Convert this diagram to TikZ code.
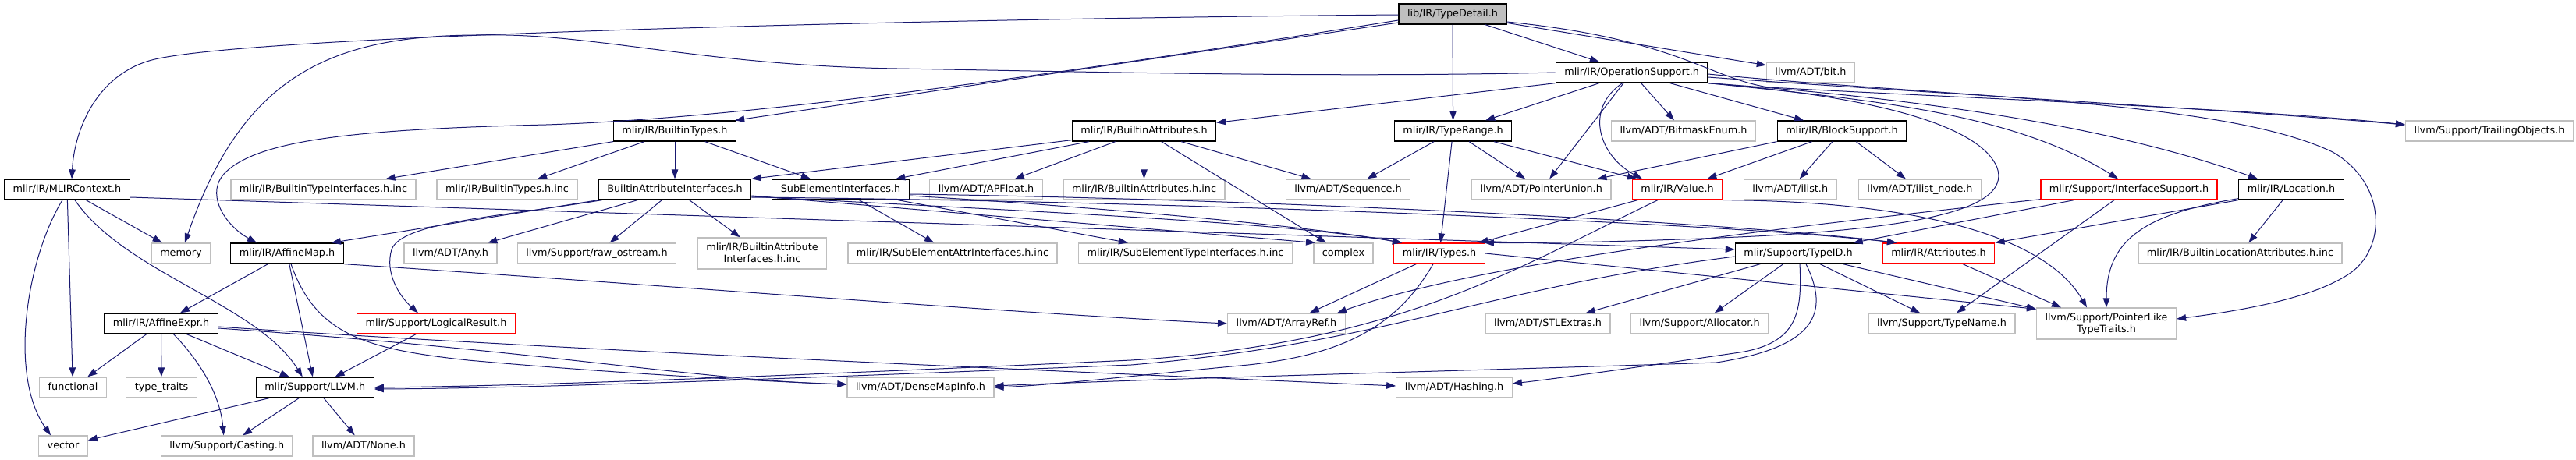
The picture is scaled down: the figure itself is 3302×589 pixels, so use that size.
\documentclass[tikz,border=0pt]{standalone}
\usepackage{fontspec}
\setmainfont{DejaVu Sans}
\usepackage{xcolor}
\usepackage{tikz}
\usetikzlibrary{arrows.meta}

\definecolor{edgeblue}{RGB}{25,25,112}
\definecolor{greyline}{RGB}{191,191,191}
\newcommand{\dgfont}{\fontsize{12.8pt}{15pt}\selectfont}

\begin{document}
\begin{tikzpicture}[
    x=1pt, y=-1pt,
    box/.style={draw=black, fill=white, line width=1.3pt, minimum height=26pt, inner xsep=11pt, inner ysep=0pt, text height=10.3pt, text depth=2.7pt, font=\dgfont, align=center},
    extbox/.style={box, draw=greyline},
    cutbox/.style={box, draw=red},
    rootbox/.style={box, fill=greyline},
    twoline/.style={minimum height=40pt, text height=25.3pt, text depth=2.7pt},
    arrow/.style={-{Triangle[length=12pt, width=8.5pt]}, draw=edgeblue, line width=1pt}
]
\useasboundingbox (0,0) rectangle (3302,589);
\node[rootbox] (td) at (1862,18) {lib/IR/TypeDetail.h};
\node[box] (opsup) at (2091.6,93) {mlir/IR/OperationSupport.h};
\node[extbox] (bit) at (2321,93) {llvm/ADT/bit.h};
\node[box] (btypes) at (865,168) {mlir/IR/BuiltinTypes.h};
\node[box] (battr) at (1466.5,168) {mlir/IR/BuiltinAttributes.h};
\node[box] (trange) at (1862.6,168) {mlir/IR/TypeRange.h};
\node[extbox] (bmask) at (2158,168) {llvm/ADT/BitmaskEnum.h};
\node[box] (bsup) at (2361,168) {mlir/IR/BlockSupport.h};
\node[extbox] (trail) at (3191,168) {llvm/Support/TrailingObjects.h};
\node[box] (mctx) at (86,243) {mlir/IR/MLIRContext.h};
\node[extbox] (btinc) at (414.5,243) {mlir/IR/BuiltinTypeInterfaces.h.inc};
\node[extbox] (btypesinc) at (650,243) {mlir/IR/BuiltinTypes.h.inc};
\node[box] (bai) at (865,243) {BuiltinAttributeInterfaces.h};
\node[box] (sei) at (1077.5,243) {SubElementInterfaces.h};
\node[extbox] (apfloat) at (1264,243) {llvm/ADT/APFloat.h};
\node[extbox] (battrinc) at (1466.5,243) {mlir/IR/BuiltinAttributes.h.inc};
\node[extbox] (seq) at (1728,243) {llvm/ADT/Sequence.h};
\node[extbox] (punion) at (1975.7,243) {llvm/ADT/PointerUnion.h};
\node[cutbox] (value) at (2150,243) {mlir/IR/Value.h};
\node[extbox] (ilist) at (2294.7,243) {llvm/ADT/ilist.h};
\node[extbox] (ilnode) at (2461,243) {llvm/ADT/ilist\_node.h};
\node[cutbox] (isup) at (2729,243) {mlir/Support/InterfaceSupport.h};
\node[box] (loc) at (2937,243) {mlir/IR/Location.h};
\node[extbox] (memory) at (232,325) {memory};
\node[box] (amap) at (368,325) {mlir/IR/AffineMap.h};
\node[extbox] (any) at (577.5,325) {llvm/ADT/Any.h};
\node[extbox] (rawos) at (765,325) {llvm/Support/raw\_ostream.h};
\node[extbox, twoline] (baiinc) at (977,325) {mlir/IR/BuiltinAttribute\\Interfaces.h.inc};
\node[extbox] (seattr) at (1221,325) {mlir/IR/SubElementAttrInterfaces.h.inc};
\node[extbox] (setype) at (1519.5,325) {mlir/IR/SubElementTypeInterfaces.h.inc};
\node[extbox] (complex) at (1722,325) {complex};
\node[cutbox] (types) at (1845,325) {mlir/IR/Types.h};
\node[box] (typeid) at (2305,325) {mlir/Support/TypeID.h};
\node[cutbox] (attrs) at (2485,325) {mlir/IR/Attributes.h};
\node[extbox] (blocinc) at (2871.5,325) {mlir/IR/BuiltinLocationAttributes.h.inc};
\node[box] (aexpr) at (206.5,415) {mlir/IR/AffineExpr.h};
\node[cutbox] (logres) at (559,415) {mlir/Support/LogicalResult.h};
\node[extbox] (aref) at (1649,415) {llvm/ADT/ArrayRef.h};
\node[extbox] (stl) at (1984,415) {llvm/ADT/STLExtras.h};
\node[extbox] (alloc) at (2178.6,415) {llvm/Support/Allocator.h};
\node[extbox] (tname) at (2489,415) {llvm/Support/TypeName.h};
\node[extbox, twoline] (ptt) at (2700,415) {llvm/Support/PointerLike\\TypeTraits.h};
\node[extbox] (func) at (93.5,497) {functional};
\node[extbox] (ttraits) at (207,497) {type\_traits};
\node[box] (llvm) at (403.7,497) {mlir/Support/LLVM.h};
\node[extbox] (dmi) at (1180,497) {llvm/ADT/DenseMapInfo.h};
\node[extbox] (hashing) at (1864,497) {llvm/ADT/Hashing.h};
\node[extbox] (vector) at (81,572) {vector};
\node[extbox] (casting) at (290.7,572) {llvm/Support/Casting.h};
\node[extbox] (none) at (466,572) {llvm/ADT/None.h};
\draw[arrow] ([yshift=-1pt]td.west) .. controls (1200,24) and (300,45) .. (191,78) .. controls (121,99) and (95,170) .. ([xshift=6pt]mctx.north);
\draw[arrow] ([yshift=-8pt]td.west) .. controls (1450,80) and (1000,150) .. (700,160) .. controls (450,166) and (330,180) .. (288,222) .. controls (262,250) and (290,290) .. ([xshift=-39pt]amap.north);
\draw[arrow] ([yshift=-11pt]td.west) -- ([xshift=-2pt]btypes.north east);
\draw[arrow] (td) -- (trange);
\draw[arrow] (td) -- (opsup);
\draw[arrow] (td) -- (bit);
\draw[arrow] ([yshift=-10pt]td.east) .. controls (2150,50) and (2190,100) .. (2267,112) .. controls (2500,125) and (2900,140) .. ([yshift=8pt]trail.west);
\draw[arrow] (opsup.west) .. controls (1700,100) and (1400,92) .. (1150,88) .. controls (900,84) and (760,42) .. (620,45) .. controls (420,44) and (310,100) .. ([xshift=5pt]memory.north);
\draw[arrow] (opsup.south west) -- ([yshift=-3pt]battr.north east);
\draw[arrow] (opsup) -- (trange);
\draw[arrow] (opsup) -- (punion);
\draw[arrow] ([xshift=-12pt]opsup.south) .. controls (2030,140) and (2050,200) .. ([xshift=-45pt]value.north);
\draw[arrow] (opsup) -- (bmask);
\draw[arrow] (opsup) -- (bsup);
\draw[arrow] (opsup.south east) .. controls (2400,128) and (2580,145) .. ([xshift=-14pt]isup.north);
\draw[arrow] (opsup.south east) .. controls (2450,125) and (2700,160) .. ([xshift=-43pt]loc.north);
\draw[arrow] ([yshift=-6pt]opsup.east) .. controls (2450,118) and (2850,140) .. ([yshift=8pt]trail.west);
\draw[arrow] (opsup.south east) .. controls (2420,125) and (2540,165) .. (2560,215) .. controls (2575,260) and (2500,290) .. (2250,303) .. controls (2100,310) and (1980,312) .. ([xshift=-1pt]types.north east);
\draw[arrow] ([yshift=-2pt]opsup.east) .. controls (2500,125) and (2850,128) .. (2990,195) .. controls (3060,235) and (3060,320) .. (3010,352) .. controls (2960,385) and (2860,400) .. ([yshift=6pt]ptt.east);
\draw[arrow] (btypes.south west) -- ([xshift=80pt]btinc.north);
\draw[arrow] (btypes) -- (btypesinc);
\draw[arrow] (btypes) -- (bai);
\draw[arrow] (btypes) -- (sei);
\draw[arrow] ([yshift=2pt]battr.south west) -- (bai.north east);
\draw[arrow] (battr) -- (sei);
\draw[arrow] (battr) -- (apfloat);
\draw[arrow] (battr) -- (battrinc);
\draw[arrow] (battr) -- (seq);
\draw[arrow] (battr) -- (complex);
\draw[arrow] (trange) -- (seq);
\draw[arrow] (trange) -- (punion);
\draw[arrow] (trange) -- (value);
\draw[arrow] (trange) -- (types);
\draw[arrow] (bsup.south west) -- ([xshift=-18pt]punion.north east);
\draw[arrow] (bsup) -- (value);
\draw[arrow] (bsup) -- (ilist);
\draw[arrow] (bsup) -- (ilnode);
\draw[arrow] (mctx) -- (memory);
\draw[arrow] (mctx) -- (func);
\draw[arrow] ([xshift=-6pt]mctx.south) .. controls (35,330) and (10,480) .. ([xshift=-16pt]vector.north);
\draw[arrow] ([xshift=10pt]mctx.south) .. controls (160,350) and (330,390) .. ([xshift=-16pt]llvm.north);
\draw[arrow] ([yshift=-10pt]mctx.east) -- ([yshift=5pt]typeid.west);
\draw[arrow] (bai.south west) -- ([xshift=-16pt]amap.north east);
\draw[arrow] ([xshift=5pt]bai.south west) .. controls (640,278) and (515,285) .. (502,320) .. controls (493,350) and (512,380) .. ([xshift=-23pt]logres.north);
\draw[arrow] (bai) -- (any);
\draw[arrow] (bai) -- (rawos);
\draw[arrow] (bai) -- (baiinc);
\draw[arrow] ([yshift=-8pt]bai.east) -- ([xshift=-36pt]complex.north);
\draw[arrow] ([yshift=-9pt]bai.east) .. controls (1300,270) and (1650,285) .. ([xshift=-48pt]types.north);
\draw[arrow] ([yshift=-10pt]bai.east) .. controls (1500,258) and (2200,285) .. ([xshift=-54pt]attrs.north);
\draw[arrow] (sei) -- (seattr);
\draw[arrow] (sei) -- (setype);
\draw[arrow] ([yshift=-8pt]sei.east) .. controls (1400,265) and (1680,290) .. ([xshift=-48pt]types.north);
\draw[arrow] ([yshift=-6pt]sei.east) .. controls (1600,255) and (2200,283) .. ([xshift=-54pt]attrs.north);
\draw[arrow] (value) -- (types);
\draw[arrow] ([xshift=-25pt]value.south) .. controls (1950,340) and (1800,440) .. (1450,462) .. controls (1100,478) and (700,495) .. (llvm.east);
\draw[arrow] (value.south east) .. controls (2450,258) and (2620,300) .. ([xshift=-25pt]ptt.north);
\draw[arrow] (isup) -- (typeid);
\draw[arrow] (isup) -- (tname);
\draw[arrow] ([yshift=1pt]isup.south west) .. controls (2300,290) and (1900,335) .. ([xshift=-11pt]aref.north east);
\draw[arrow] (loc) -- (blocinc);
\draw[arrow] (loc.south west) -- (attrs.north east);
\draw[arrow] ([yshift=2pt]loc.south west) .. controls (2745,275) and (2700,310) .. (ptt.north);
\draw[arrow] (attrs) -- ([xshift=-58pt]ptt.north);
\draw[arrow] (types) -- (aref);
\draw[arrow] ([xshift=-8pt]types.south) .. controls (1790,420) and (1720,455) .. (1600,468) .. controls (1450,482) and (1350,494) .. (dmi.east);
\draw[arrow] (types.east) -- ([yshift=-2pt]ptt.north west);
\draw[arrow] (typeid) -- (stl);
\draw[arrow] (typeid) -- (alloc);
\draw[arrow] (typeid) -- (tname);
\draw[arrow] ([xshift=-24pt]typeid.south east) -- ([yshift=-2pt]ptt.north west);
\draw[arrow] ([xshift=2pt]typeid.south) .. controls (2310,400) and (2305,440) .. (2230,452) .. controls (2120,468) and (2000,485) .. ([yshift=5pt]hashing.east);
\draw[arrow] ([xshift=10pt]typeid.south) .. controls (2345,400) and (2330,445) .. (2200,465) .. controls (1900,475) and (1500,485) .. ([yshift=2pt]dmi.east);
\draw[arrow] ([yshift=-4pt]typeid.west) .. controls (1900,370) and (1780,440) .. (1450,468) .. controls (1100,482) and (700,498) .. ([yshift=-2pt]llvm.east);
\draw[arrow] (amap) -- (aexpr);
\draw[arrow] (amap) -- (llvm);
\draw[arrow] (amap.south east) .. controls (800,362) and (1300,402) .. (aref.west);
\draw[arrow] ([xshift=5pt]amap.south) .. controls (405,430) and (470,448) .. (600,462) .. controls (800,480) and (1000,490) .. ([yshift=4pt]dmi.west);
\draw[arrow] (aexpr) -- (func);
\draw[arrow] (aexpr) -- (ttraits);
\draw[arrow] (aexpr) -- (llvm);
\draw[arrow] ([xshift=16pt]aexpr.south) .. controls (255,462) and (282,505) .. ([xshift=-4pt]casting.north);
\draw[arrow] ([yshift=-6pt]aexpr.east) .. controls (700,450) and (900,488) .. ([yshift=4pt]dmi.west);
\draw[arrow] ([yshift=-4pt]aexpr.east) .. controls (700,448) and (1400,478) .. ([yshift=2pt]hashing.west);
\draw[arrow] (logres) -- (llvm);
\draw[arrow] (llvm) -- (vector);
\draw[arrow] (llvm) -- (casting);
\draw[arrow] (llvm) -- (none);
\end{tikzpicture}
\end{document}
